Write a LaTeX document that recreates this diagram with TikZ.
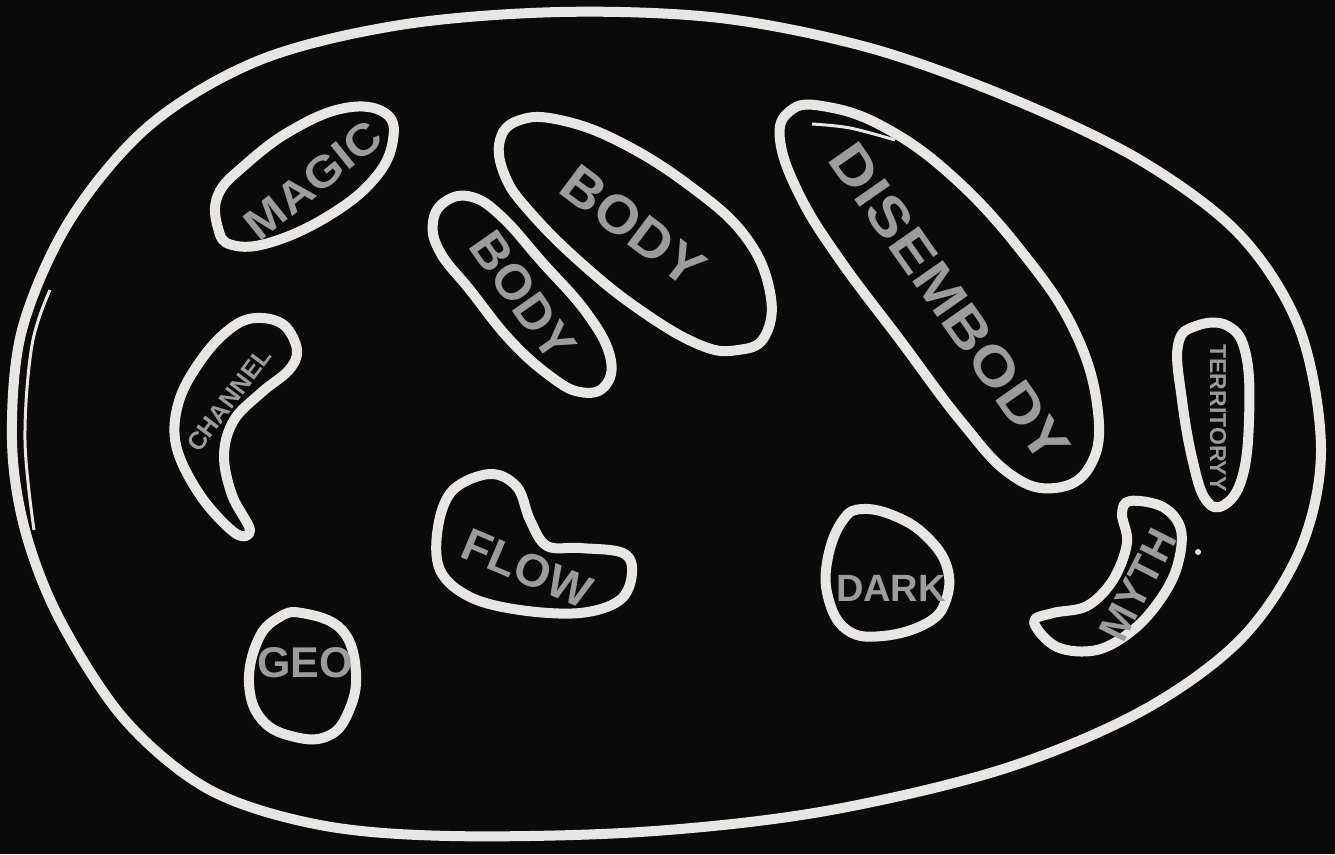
\documentclass[tikz,border=0pt]{standalone}
\usepackage{fontspec}
\setmainfont{Liberation Sans}
\usepackage{tikz}
\definecolor{board}{HTML}{0A0A0A}
\definecolor{chalkwhite}{HTML}{E8E6E2}
\definecolor{labelgrey}{HTML}{9C9C9C}
\newcommand{\fs}[1]{\fontsize{#1}{#1}\selectfont\bfseries}

\begin{document}
\begin{tikzpicture}[x=1pt, y=-1pt,
  chalk/.style={draw=chalkwhite, line width=10pt, line join=round, line cap=round},
  lbl/.style={text=labelgrey, inner sep=0pt}]
  % Tabule
  \fill[board] (0,0) rectangle (1335,854);
  \useasboundingbox (0,0) rectangle (1335,854);

  % Velky obrys
  \draw[chalk] plot[smooth cycle, tension=0.55] coordinates {(12,440) (22,330) (70,220) (150,125) (260,60) (400,25) (560,12) (720,18) (870,48) (1010,98) (1140,160) (1240,235) (1300,330) (1321,450) (1300,550) (1240,640) (1140,712) (1000,770) (820,812) (640,832) (450,836) (320,825) (210,790) (125,720) (60,620) (25,530)};
  \draw[chalkwhite, line width=3pt] plot[smooth, tension=0.6] coordinates {(34,530) (25,440) (32,345) (50,290)};

  % Magic
  \draw[chalk] plot[smooth cycle, tension=0.7] coordinates {(218,228) (218,195) (245,165) (292,130) (345,108) (385,113) (393,140) (375,178) (330,215) (272,242) (232,245)};
  \node[lbl, rotate=39, font=\fs{44}, xscale=1.1] (magic) at (313,180) {MAGIC};

  % Body (nahore)
  \draw[chalk] plot[smooth cycle, tension=0.7] coordinates {(500,140) (520,120) (560,120) (620,142) (690,186) (745,236) (770,292) (765,336) (738,350) (700,345) (640,310) (580,262) (530,212) (505,176)};
  \node[lbl, rotate=-37, font=\fs{54}, xscale=1.05] (bodyA) at (633,226) {BODY};

  % Body (vlevo)
  \draw[chalk] plot[smooth cycle, tension=0.7] coordinates {(433,222) (446,201) (472,197) (502,217) (542,262) (586,312) (610,356) (605,386) (580,392) (550,376) (510,340) (470,290) (440,252)};
  \node[lbl, rotate=-55, font=\fs{50}] (bodyB) at (523,296) {BODY};

  % Disembody
  \draw[chalk] plot[smooth cycle, tension=0.7] coordinates {(780,140) (790,111) (822,106) (882,126) (952,176) (1022,252) (1075,332) (1098,412) (1090,466) (1055,488) (1010,474) (960,420) (900,340) (840,260) (800,196)};
  \draw[chalkwhite, line width=3pt] plot[smooth, tension=0.6] coordinates {(812,124) (850,128) (895,140)};
  \node[lbl, rotate=-55, font=\fs{54}, xscale=1.15] (disembody) at (950,303) {DISEMBODY};

  % Territory
  \draw[chalk] plot[smooth cycle, tension=0.7] coordinates {(1178,345) (1196,326) (1228,326) (1246,355) (1249,420) (1242,478) (1224,505) (1206,500) (1193,462) (1182,400)};
  \node[lbl, rotate=-90, font=\fs{23}] (territory) at (1218,418) {TERRITORYY};

  % Channel
  \draw[chalk] plot[smooth cycle, tension=0.6] coordinates {(237,324) (262,318) (285,326) (297,350) (289,370) (262,392) (234,420) (224,455) (232,495) (250,530) (235,533) (200,495) (176,445) (180,398) (207,352)};
  \node[lbl, rotate=53, font=\fs{25}] (channel) at (229,400) {CHANNEL};

  % Flow
  \draw[chalk] plot[smooth cycle, tension=0.6] coordinates {(490,474) (517,487) (530,520) (547,546) (580,548) (623,553) (632,573) (620,600) (580,613) (520,610) (470,597) (440,570) (438,527) (453,490)};
  \node[lbl, rotate=-23, font=\fs{46}] (flow) at (527,568) {FLOW};

  % Geo
  \draw[chalk] plot[smooth cycle, tension=0.7] coordinates {(302,613) (342,630) (356,673) (348,713) (328,736) (295,737) (262,720) (249,683) (258,640) (278,618)};
  \node[lbl, font=\fs{43}] (geo) at (305,663) {GEO};

  % Dark
  \draw[chalk] plot[smooth cycle, tension=0.7] coordinates {(863,509) (897,517) (927,537) (947,567) (946,600) (927,623) (883,636) (847,630) (828,597) (828,557) (843,520)};
  \node[lbl, font=\fs{38}] (dark) at (891,588) {DARK};

  % Myth
  \draw[chalk] plot[smooth cycle, tension=0.6] coordinates {(1130,501) (1163,507) (1181,530) (1177,567) (1160,600) (1133,630) (1097,650) (1057,647) (1034,622) (1053,613) (1087,606) (1113,580) (1127,543) (1122,514)};
  \node[lbl, rotate=63, font=\fs{42}] (myth) at (1138,585) {MYTH};

  % Tecka
  \fill[chalkwhite] (1198,552) circle (3);
\end{tikzpicture}
\end{document}
